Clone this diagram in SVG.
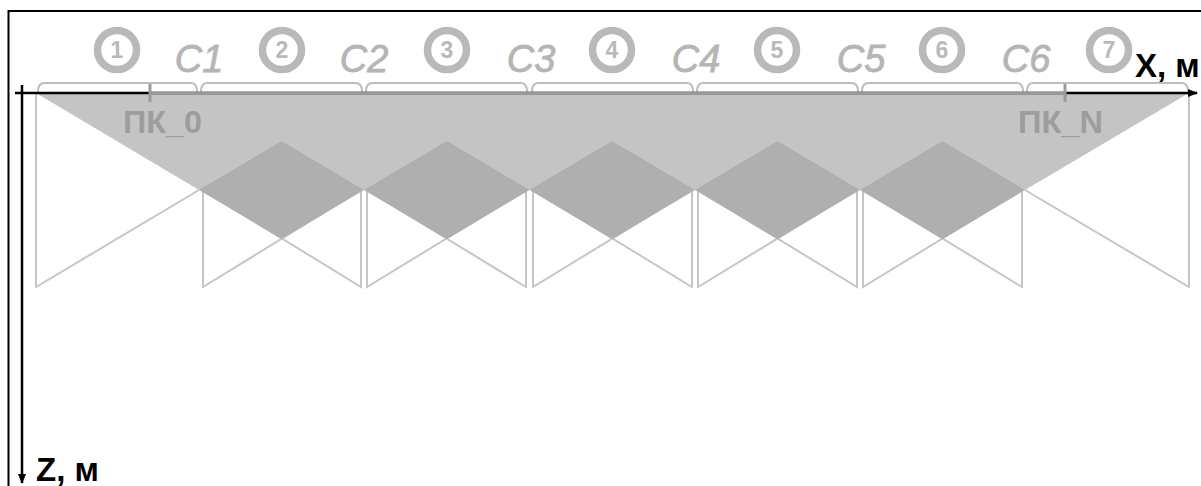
<svg xmlns="http://www.w3.org/2000/svg" width="1201" height="486" viewBox="0 0 1201 486">
<style>
.ln{stroke:#c6c6c6;stroke-width:2;fill:none}
.br{stroke:#bdbdbd;stroke-width:2;fill:none}
.ring{fill:#fff;stroke:#b9b9b9;stroke-width:7.5}
.num{font-family:"Liberation Sans",Arial,sans-serif;font-weight:bold;font-size:23px;fill:#b9b9b9;text-anchor:middle}
.cl{font-family:"Liberation Sans",Arial,sans-serif;font-style:italic;font-size:38px;fill:#b5b5b5;stroke:#b5b5b5;stroke-width:0.8;text-anchor:middle}
.pk{font-family:"Liberation Sans",Arial,sans-serif;font-weight:bold;font-size:32px;fill:#9d9d9d}
.ax{font-family:"Liberation Sans",Arial,sans-serif;font-weight:bold;font-size:33px;fill:#000}
</style>
<defs>
<marker id="ah" viewBox="0 0 10 10" refX="9" refY="5" markerWidth="10" markerHeight="10" markerUnits="userSpaceOnUse" orient="auto">
<path d="M0,1 L10,5 L0,9 Z" fill="#000"/>
</marker>
</defs>
<rect width="1201" height="486" fill="#fff"/>
<path d="M8.5,486 V11 H1201" stroke="#000" stroke-width="2" fill="none"/>
<g id="section">
<polygon points="36,93 1189,93 1025,190 199,190" fill="#c4c4c4"/>
<g id="blocks">
<path class="ln" d="M36,93 V287 L199,190"/>
<path class="ln" d="M203,190 V287 L361,190 V287 L203,190"/>
<path class="ln" d="M367,190 V287 L526,190 V287 L367,190"/>
<path class="ln" d="M533,190 V287 L692,190 V287 L533,190"/>
<path class="ln" d="M698,190 V287 L857,190 V287 L698,190"/>
<path class="ln" d="M863,190 V287 L1022,190 V287 L863,190"/>
<path class="ln" d="M1189,93 V287 L1025,190"/>
</g>
<g id="diamonds" fill="#afafaf">
<polygon points="199,190 281.5,141 364,190 281.5,239"/>
<polygon points="364,190 447,141 529.5,190 447,239"/>
<polygon points="529.5,190 612,141 695,190 612,239"/>
<polygon points="695,190 777.5,141 860,190 777.5,239"/>
<polygon points="860,190 942.5,141 1025,190 942.5,239"/>
</g>
</g>
<g id="braces">
<path class="br" d="M38,92 Q38,83 44,83 H191 Q197,83 197,92"/>
<path class="br" d="M201,92 Q201,83 207,83 H356 Q362,83 362,92"/>
<path class="br" d="M366,92 Q366,83 372,83 H521 Q527,83 527,92"/>
<path class="br" d="M532,92 Q532,83 538,83 H687 Q693,83 693,92"/>
<path class="br" d="M697,92 Q697,83 703,83 H852 Q858,83 858,92"/>
<path class="br" d="M862,92 Q862,83 868,83 H1017 Q1023,83 1023,92"/>
<path class="br" d="M1027,92 Q1027,83 1033,83 H1182 Q1188,83 1188,92"/>
</g>
<g id="labels">
<g id="n1"><circle class="ring" cx="117" cy="50" r="19.5"/><text class="num" x="117" y="58">1</text></g>
<g id="n2"><circle class="ring" cx="282" cy="50" r="19.5"/><text class="num" x="282" y="58">2</text></g>
<g id="n3"><circle class="ring" cx="447" cy="50" r="19.5"/><text class="num" x="447" y="58">3</text></g>
<g id="n4"><circle class="ring" cx="612" cy="50" r="19.5"/><text class="num" x="612" y="58">4</text></g>
<g id="n5"><circle class="ring" cx="777" cy="50" r="19.5"/><text class="num" x="777" y="58">5</text></g>
<g id="n6"><circle class="ring" cx="942" cy="50" r="19.5"/><text class="num" x="942" y="58">6</text></g>
<g id="n7"><circle class="ring" cx="1109" cy="50" r="19.5"/><text class="num" x="1109" y="58">7</text></g>
<text class="cl" x="199" y="72">C1</text>
<text class="cl" x="364" y="72">C2</text>
<text class="cl" x="531" y="72">C3</text>
<text class="cl" x="696" y="72">C4</text>
<text class="cl" x="861" y="72">C5</text>
<text class="cl" x="1026" y="72">C6</text>
</g>
<g id="axes">
<line x1="15" y1="93" x2="1197" y2="93" stroke="#000" stroke-width="2.5" marker-end="url(#ah)"/>
<line x1="22" y1="85" x2="22" y2="483" stroke="#000" stroke-width="2.5" marker-end="url(#ah)"/>
<line x1="150" y1="93" x2="1065" y2="93" stroke="#9a9a9a" stroke-width="3"/>
<line x1="150" y1="84" x2="150" y2="102" stroke="#9a9a9a" stroke-width="3"/>
<line x1="1065" y1="84" x2="1065" y2="102" stroke="#9a9a9a" stroke-width="3"/>
<text class="ax" x="1135" y="77">X, м</text>
<text class="ax" x="36" y="481">Z, м</text>
</g>
<g id="pk">
<text class="pk" x="123" y="133" textLength="79" lengthAdjust="spacingAndGlyphs">ПК_0</text>
<text class="pk" x="1018" y="133" textLength="85" lengthAdjust="spacingAndGlyphs">ПК_N</text>
</g>
</svg>
